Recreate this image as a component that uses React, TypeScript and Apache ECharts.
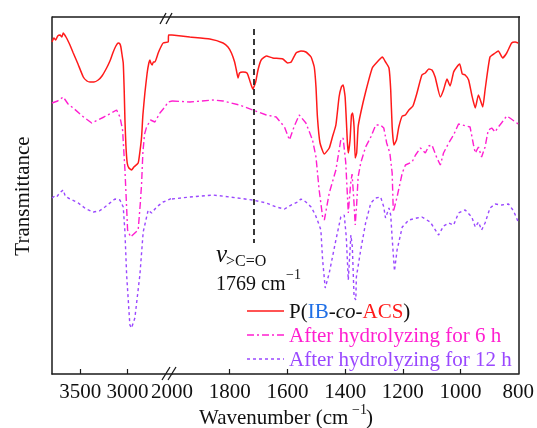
import React, { useEffect, useRef } from "react";
import * as echarts from "echarts";

// FTIR spectra: [wavenumber (cm-1), transmittance (a.u.)]
const pIBcoACS: number[][] = [
  [3800, 332], [3780, 336], [3760, 334], [3740, 338], [3715, 339], [3695, 337], [3681, 341], [3665, 339],
  [3652, 337], [3630, 333], [3610, 329], [3575, 321], [3525, 310], [3469, 297], [3430, 293], [3398, 292],
  [3356, 292], [3311, 294], [3271, 298], [3222, 306], [3187, 313], [3152, 322], [3124, 328], [3099, 331],
  [3081, 330], [3071, 327], [3060, 320], [3046, 311], [3036, 284], [3028, 254], [3018, 229], [3004, 211],
  [2986, 206], [2958, 204], [2933, 207], [2888, 211], [2870, 222], [2852, 237], [2838, 259], [2817, 281],
  [2793, 301], [2775, 311], [2764, 314], [2754, 311], [2740, 309], [2727, 312], [2711, 312], [2676, 321],
  [2648, 327], [2623, 331], [2570, 332], [2566, 339], [2530, 339],
  [2000, 339], [1938, 337], [1869, 335], [1823, 331], [1806, 327], [1794, 321], [1783, 312], [1777, 304],
  [1771, 296], [1766, 301], [1754, 302], [1740, 301], [1731, 294], [1720, 285], [1710, 292], [1702, 304],
  [1691, 314], [1673, 318], [1651, 316], [1616, 315], [1599, 311], [1587, 312], [1570, 321], [1553, 323],
  [1536, 322], [1518, 317], [1507, 307], [1501, 287], [1496, 257], [1487, 231], [1472, 220], [1455, 226],
  [1444, 237], [1432, 249], [1421, 277], [1413, 287], [1407, 289], [1400, 277], [1392, 231], [1389, 221],
  [1383, 234], [1378, 259], [1374, 261], [1369, 247], [1365, 216], [1360, 221], [1355, 247], [1346, 261],
  [1329, 282], [1306, 306], [1289, 312], [1271, 317], [1260, 312], [1248, 306], [1242, 284], [1237, 247],
  [1231, 229], [1222, 234], [1214, 247], [1202, 258], [1191, 259], [1179, 264], [1165, 268], [1151, 281],
  [1134, 299], [1122, 301], [1110, 305], [1099, 304], [1088, 297], [1070, 277], [1059, 284], [1047, 295],
  [1036, 288], [1024, 302], [1013, 307], [1003, 310], [994, 300], [984, 299], [972, 294], [961, 279],
  [949, 266], [938, 279], [923, 267], [915, 284], [898, 317], [880, 321], [869, 323], [854, 316],
  [840, 321], [823, 331], [811, 332], [800, 331],
];

const hydro6h: number[][] = [
  [3800, 271], [3740, 273], [3681, 277], [3630, 270], [3575, 266], [3480, 258], [3380, 251], [3250, 257],
  [3116, 264], [3081, 257], [3053, 244], [3028, 204], [3012, 170], [3000, 144], [2968, 137], [2888, 144],
  [2866, 170], [2852, 190], [2838, 222], [2820, 240], [2799, 247], [2757, 254], [2711, 252], [2658, 261],
  [2605, 267], [2571, 272], [2530, 273],
  [2000, 273], [1938, 272], [1858, 274], [1823, 273], [1766, 269], [1720, 264], [1673, 259], [1639, 257],
  [1610, 247], [1593, 234], [1576, 248], [1559, 259], [1536, 251], [1513, 234], [1501, 217], [1490, 184],
  [1478, 157], [1472, 154], [1455, 181], [1432, 204], [1415, 234], [1407, 236], [1398, 212], [1389, 161],
  [1381, 190], [1376, 200], [1370, 175], [1365, 149], [1360, 170], [1355, 197], [1346, 211], [1329, 227],
  [1311, 237], [1294, 249], [1277, 249], [1266, 246], [1256, 231], [1245, 221], [1237, 201], [1233, 162],
  [1220, 177], [1202, 201], [1191, 209], [1168, 212], [1156, 219], [1139, 226], [1122, 221], [1110, 228],
  [1099, 229], [1082, 216], [1070, 209], [1059, 221], [1041, 231], [1024, 239], [1007, 250], [967, 247],
  [955, 229], [949, 221], [938, 227], [927, 217], [915, 227], [904, 244], [892, 246], [880, 242],
  [872, 246], [858, 251], [840, 258], [829, 256], [800, 250],
];

const hydro12h: number[][] = [
  [3800, 176], [3770, 178], [3750, 177], [3720, 181], [3681, 184], [3660, 178], [3628, 176], [3522, 171],
  [3440, 165], [3363, 162], [3300, 163], [3240, 167], [3134, 175], [3081, 174], [3046, 167], [3028, 142],
  [3010, 99], [2976, 49], [2958, 46], [2923, 56], [2870, 99], [2835, 142], [2782, 164], [2746, 161],
  [2693, 167], [2624, 172], [2571, 174], [2530, 176],
  [2000, 175], [1938, 177], [1858, 179], [1800, 177], [1720, 174], [1673, 171], [1639, 167], [1610, 165],
  [1587, 169], [1565, 172], [1553, 175], [1536, 172], [1518, 167], [1503, 159], [1490, 149], [1484, 144],
  [1478, 114], [1469, 86], [1455, 101], [1432, 134], [1415, 157], [1403, 159], [1396, 137], [1389, 94],
  [1380, 139], [1375, 127], [1369, 77], [1363, 74], [1361, 97], [1346, 124], [1329, 151], [1311, 171],
  [1294, 176], [1277, 177], [1266, 167], [1260, 156], [1248, 166], [1242, 159], [1237, 136], [1229, 103],
  [1220, 124], [1202, 147], [1179, 154], [1151, 156], [1134, 157], [1105, 152], [1076, 139], [1059, 148],
  [1041, 151], [1024, 149], [1007, 161], [984, 164], [961, 157], [949, 147], [938, 152], [927, 144],
  [915, 151], [898, 166], [880, 170], [857, 169], [834, 170], [816, 163], [800, 152],
];

const highTicks = [3000, 3500];
const lowTicks = [1000, 1200, 1400, 1600, 1800];
const carbonylMark = 1718;
const carbonylSpan = [345, 131];

const legendNames = ["P(IB-co-ACS)", "After hydrolyzing for 6 h", "After hydrolyzing for 12 h"];

const RED = "#ff1a1a";
const MAGENTA = "#ff1fd0";
const PURPLE = "#9a48ff";
const BLUE = "#1f6fe6";
const FONT = "'Liberation Serif', 'Times New Roman', serif";
const AXIS = "#1a1a1a";

const split = (d: number[][], lo: number, hi: number) => d.filter((p) => p[0] >= lo && p[0] <= hi);

export default function App() {
  const ref = useRef<HTMLDivElement>(null);
  useEffect(() => {
    if (!ref.current) return;
    const chart = echarts.init(ref.current, undefined, { renderer: "svg" });
    const axisLabel = { fontFamily: FONT, fontSize: 21, color: "#111", margin: 6, formatter: (v: number) => String(v) };
    const curves = [
      { d: pIBcoACS, color: RED, type: "solid" as any, width: 1.5, smooth: 0.15 },
      { d: hydro6h, color: MAGENTA, type: [7, 3, 2, 3], width: 1.4, smooth: false },
      { d: hydro12h, color: PURPLE, type: [3, 3], width: 1.4, smooth: false },
    ];
    const series: any[] = [];
    curves.forEach((c, i) => {
      series.push({
        type: "line", xAxisIndex: 0, yAxisIndex: 0, data: split(c.d, 2530, 3800), showSymbol: false,
        smooth: c.smooth, silent: true, lineStyle: { color: c.color, width: c.width, type: c.type },
      });
      const s: any = {
        type: "line", xAxisIndex: 1, yAxisIndex: 1, data: split(c.d, 800, 2000), showSymbol: false,
        smooth: c.smooth, silent: true, lineStyle: { color: c.color, width: c.width, type: c.type },
      };
      if (i === 0) {
        s.markLine = {
          symbol: "none", silent: true, label: { show: false },
          lineStyle: { color: "#222", width: 1.8, type: [6, 4] },
          data: [[{ coord: [carbonylMark, carbonylSpan[0]] }, { coord: [carbonylMark, carbonylSpan[1]] }]],
        };
      }
      series.push(s);
    });

    const legendY = [311, 335, 359];
    const legendDash: any[] = [null, [7, 3, 2, 3], [3, 3]];
    const legendColors = [RED, MAGENTA, PURPLE];
    const graphic: any[] = [
      { type: "line", shape: { x1: 52, y1: 17, x2: 520, y2: 17 }, style: { stroke: AXIS, lineWidth: 1.5 } },
      { type: "line", shape: { x1: 160, y1: 24, x2: 166, y2: 13 }, style: { stroke: AXIS, lineWidth: 1.3 } },
      { type: "line", shape: { x1: 166, y1: 24, x2: 172, y2: 13 }, style: { stroke: AXIS, lineWidth: 1.3 } },
      { type: "line", shape: { x1: 162, y1: 380, x2: 170, y2: 367 }, style: { stroke: AXIS, lineWidth: 1.3 } },
      { type: "line", shape: { x1: 168, y1: 380, x2: 176, y2: 367 }, style: { stroke: AXIS, lineWidth: 1.3 } },
      {
        type: "text", x: 22, y: 196, rotation: Math.PI / 2,
        style: { text: "Transmittance", font: `21px ${FONT}`, fill: "#111", textAlign: "center", textVerticalAlign: "middle" },
      },
      { type: "text", x: 199, y: 417, style: { text: "Wavenumber (cm", font: `21px ${FONT}`, fill: "#111", textAlign: "left", textVerticalAlign: "middle" } },
      { type: "text", x: 352, y: 409, style: { text: "\u22121", font: `14px ${FONT}`, fill: "#111", textAlign: "left", textVerticalAlign: "middle" } },
      { type: "text", x: 366, y: 417, style: { text: ")", font: `21px ${FONT}`, fill: "#111", textAlign: "left", textVerticalAlign: "middle" } },
      { type: "text", x: 216, y: 253, style: { text: "\u03bd", font: `italic 25px ${FONT}`, fill: "#111", textAlign: "left", textVerticalAlign: "middle" } },
      { type: "text", x: 226, y: 260, style: { text: ">C=O", font: `16px ${FONT}`, fill: "#111", textAlign: "left", textVerticalAlign: "middle" } },
      { type: "text", x: 216, y: 283, style: { text: "1769 cm", font: `20px ${FONT}`, fill: "#111", textAlign: "left", textVerticalAlign: "middle" } },
      { type: "text", x: 286, y: 274, style: { text: "\u22121", font: `14px ${FONT}`, fill: "#111", textAlign: "left", textVerticalAlign: "middle" } },
    ];
    legendY.forEach((y, i) => {
      const ls: any = { stroke: legendColors[i], lineWidth: 1.5 };
      if (legendDash[i]) ls.lineDash = legendDash[i];
      graphic.push({ type: "line", shape: { x1: 247, y1: y, x2: 284, y2: y }, style: ls });
    });
    graphic.push({
      type: "text", x: 289, y: legendY[0],
      style: {
        text: "{k|P(}{b|IB}{k|-}{i|co}{k|-}{r|ACS}{k|)}",
        textAlign: "left", textVerticalAlign: "middle",
        rich: {
          k: { fontFamily: FONT, fontSize: 21, fill: "#111", color: "#111" },
          b: { fontFamily: FONT, fontSize: 21, fill: BLUE, color: BLUE },
          i: { fontFamily: FONT, fontSize: 21, fontStyle: "italic", fill: "#111", color: "#111" },
          r: { fontFamily: FONT, fontSize: 21, fill: RED, color: RED },
        },
      },
    });
    graphic.push({ type: "text", x: 289, y: legendY[1], style: { text: legendNames[1], font: `21px ${FONT}`, fill: MAGENTA, textAlign: "left", textVerticalAlign: "middle" } });
    graphic.push({ type: "text", x: 289, y: legendY[2], style: { text: legendNames[2], font: `21px ${FONT}`, fill: PURPLE, textAlign: "left", textVerticalAlign: "middle" } });

    chart.setOption({
      animation: false,
      grid: [
        { left: 52, top: 17, width: 120, height: 357 },
        { left: 172, top: 17, width: 348, height: 357 },
      ],
      xAxis: [
        {
          type: "value", gridIndex: 0, min: 2530, max: 3800, inverse: true,
          axisLine: { onZero: false, lineStyle: { color: AXIS, width: 1.5 } },
          axisTick: { inside: true, length: 5, customValues: highTicks, lineStyle: { color: AXIS, width: 1.2 } },
          axisLabel: { ...axisLabel, customValues: highTicks },
          splitLine: { show: false },
        },
        {
          type: "value", gridIndex: 1, min: 800, max: 2000, interval: 200, inverse: true,
          axisLine: { onZero: false, lineStyle: { color: AXIS, width: 1.5 } },
          axisTick: { inside: true, length: 5, customValues: lowTicks, lineStyle: { color: AXIS, width: 1.2 } },
          axisLabel: { ...axisLabel, showMinLabel: true, showMaxLabel: true },
          splitLine: { show: false },
        },
      ],
      yAxis: [
        {
          type: "value", gridIndex: 0, min: 0, max: 357, position: "left",
          axisLine: { show: true, onZero: false, lineStyle: { color: AXIS, width: 1.5 } },
          axisTick: { show: false }, axisLabel: { show: false }, splitLine: { show: false },
        },
        {
          type: "value", gridIndex: 1, min: 0, max: 357, position: "right",
          axisLine: { show: true, onZero: false, lineStyle: { color: AXIS, width: 1.5 } },
          axisTick: { show: false }, axisLabel: { show: false }, splitLine: { show: false },
        },
      ],
      series,
      graphic,
    });
    return () => chart.dispose();
  }, []);
  return <div ref={ref} style={{ position: "fixed", left: 0, top: 0, width: 537, height: 428 }} />;
}
